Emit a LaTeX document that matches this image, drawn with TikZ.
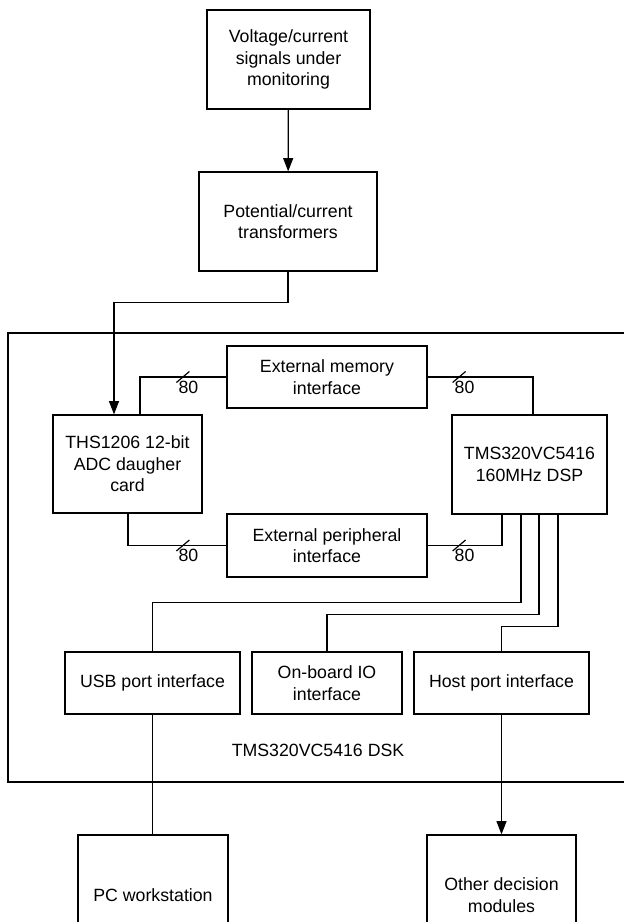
\documentclass[tikz,border=0pt]{standalone}
\usepackage{fontspec}
\setmainfont{Liberation Sans}
\usetikzlibrary{calc, arrows.meta}

% bus width mark: slash on the line and its label
\newcommand{\busMark}[2]{%
	\draw ($(#1)+(-6.5,5.5)$) -- ($(#1)+(6.5,-5.5)$);
	\node (#1_label) at ($(#1)+(5.5,10)$) {#2};}

\begin{document}
\begin{tikzpicture}[x=0.75pt, y=-0.75pt,
	font=\fontsize{13.3}{16.2}\selectfont,
	line width=0.9pt,
	block/.style 2 args={draw, align=center, inner sep=2pt,
		minimum width=#1*0.75pt, minimum height=#2*0.75pt},
	flow/.style={-{Triangle[length=10pt, width=7.5pt]}}]

	\useasboundingbox (0,0) rectangle (624,922);
	\clip (0,0) rectangle (624,922);

	% Signal chain
	\node[block={163}{99}] (signals) at (288.5,59.5) {Voltage/current\\ signals under\\ monitoring};
	\node[block={178}{99}] (transformers) at (288,221.5) {Potential/current\\ transformers};

	% DSK board
	\draw (8,333) rectangle (660,782);
	\node (dsk_label) at (318,750) {TMS320VC5416 DSK};

	\node[block={149}{98}] (adc) at (127.5,464) {THS1206 12-bit\\ ADC daugher\\ card};
	\node[block={155}{99}] (dsp) at (529.5,464.5) {TMS320VC5416\\ 160MHz DSP};
	\node[block={200}{62}] (ext_mem) at (327,377) {External memory\\ interface};
	\node[block={200}{63}] (ext_per) at (327,545.5) {External peripheral\\ interface};

	\node[block={175}{62}] (usb) at (152.5,683) {USB port interface};
	\node[block={150}{62}] (onboard_io) at (327,683) {On-board IO\\ interface};
	\node[block={175}{62}] (host) at (501.5,683) {Host port interface};

	% Outside the board
	\node[block={150}{120}] (pc) at (153,895) {PC workstation};
	\node[block={149}{120}] (other) at (501.5,895) {Other decision\\ modules};

	% Signal path
	\draw[flow] (signals) -- (transformers);
	\draw[flow] (transformers.south) -- ++(0,31) -| ($(adc.north)+(-13.5,0)$);

	% Memory bus
	\draw (ext_mem.west) -| ($(adc.north)+(12.5,0)$);
	\draw (ext_mem.east) -| ($(dsp.north)+(3.5,0)$);
	\coordinate (mem_bus_l) at ($(ext_mem.west)+(-43.5,0)$);
	\coordinate (mem_bus_r) at ($(ext_mem.east)+(31.5,0)$);
	\busMark{mem_bus_l}{80}
	\busMark{mem_bus_r}{80}

	% Peripheral bus
	\draw (ext_per.west) -| ($(adc.south)+(0.5,0)$);
	\draw (ext_per.east) -| ($(dsp.south)+(-27.5,0)$);
	\coordinate (per_bus_l) at ($(ext_per.west)+(-43.5,0)$);
	\coordinate (per_bus_r) at ($(ext_per.east)+(31.5,0)$);
	\busMark{per_bus_l}{80}
	\busMark{per_bus_r}{80}

	% DSP ports
	\draw ($(dsp.south)+(-8.5,0)$) -- ++(0,87.5) -| (usb.north);
	\draw ($(dsp.south)+(9.5,0)$) -- ++(0,100) -| (onboard_io.north);
	\draw ($(dsp.south)+(28.5,0)$) -- ++(0,112) -| (host.north);

	% Links leaving the board
	\draw (usb.south) -- (usb.south |- pc.north);
	\draw[flow] (host.south) -- (other.north);

\end{tikzpicture}
\end{document}
